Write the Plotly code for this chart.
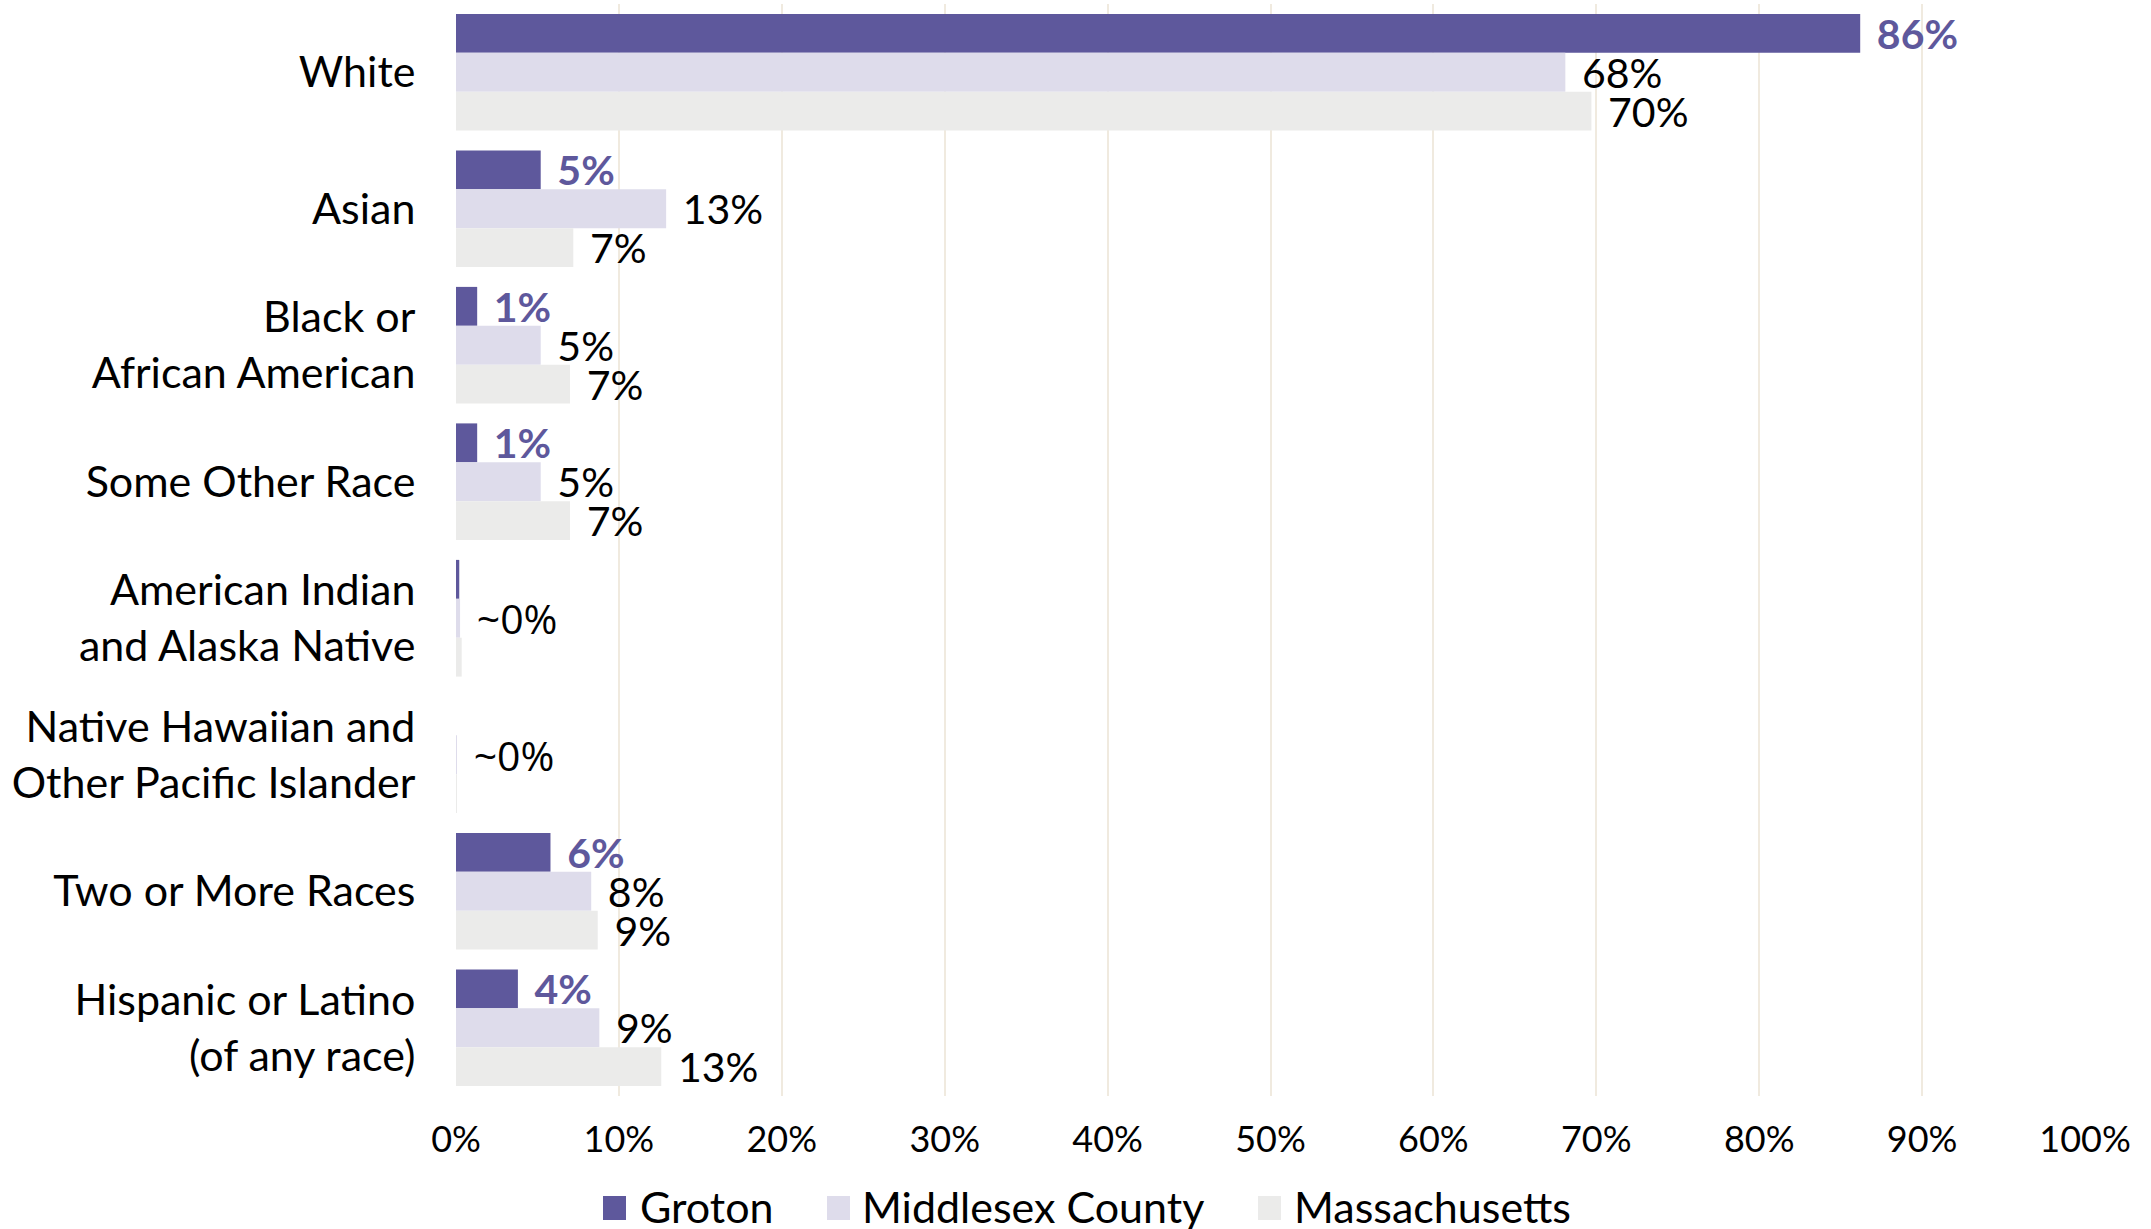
import plotly.graph_objects as go

categories = ["White", "Asian", "Black or<br>African American", "Some Other Race",
              "American Indian<br>and Alaska Native", "Native Hawaiian and<br>Other Pacific Islander",
              "Two or More Races", "Hispanic or Latino<br>(of any race)"]
series_names = ["Groton", "Middlesex County", "Massachusetts"]
groton = [86.2, 5.2, 1.3, 1.3, 0.2, 0.0, 5.8, 3.8]
middlesex = [68.1, 12.9, 5.2, 5.2, 0.25, 0.01, 8.3, 8.8]
massachusetts = [69.7, 7.2, 7.0, 7.0, 0.35, 0.01, 8.7, 12.6]
groton_labels = ["86%", "5%", "1%", "1%", "", "", "6%", "4%"]
middlesex_labels = ["68%", "13%", "5%", "5%", "~0%", "~0%", "8%", "9%"]
massachusetts_labels = ["70%", "7%", "7%", "7%", "", "", "9%", "13%"]
x_ticks = [0, 10, 20, 30, 40, 50, 60, 70, 80, 90, 100]

colors = ["#5E589C", "#DEDCEB", "#EBEBEA"]
label_colors = ["#5E589C", "#000000", "#000000"]
FONT = "Lato, 'Open Sans', sans-serif"
PAD = "\u2004"

# layout geometry (pixels)
W, H = 2151, 1229
ML, MR, MT, MB = 456, 66, 4, 133
PW, PH = W - ML - MR, H - MT - MB


def px_x(px):
    return (px - ML) / PW


def px_y(py):
    return (H - MB - py) / PH


fig = go.Figure()
for name, vals, labs, col, lcol in zip(series_names, [groton, middlesex, massachusetts],
                                       [groton_labels, middlesex_labels, massachusetts_labels],
                                       colors, label_colors):
    is_groton = name == "Groton"
    texts = []
    fams = []
    for lab in labs:
        if lab == "":
            texts.append("")
            fams.append(FONT)
        elif lab.startswith("~"):
            texts.append(PAD + lab)
            fams.append("'Open Sans', sans-serif")
        else:
            texts.append(PAD + (f"<b>{lab}</b>" if is_groton else lab))
            fams.append(FONT)
    fig.add_trace(go.Bar(
        y=categories, x=vals, name=name, orientation="h",
        marker=dict(color=col, line=dict(width=0)),
        text=texts, textposition="outside", constraintext="none", cliponaxis=False,
        textfont=dict(color=lcol, size=41, family=fams),
        hoverinfo="skip", showlegend=False,
    ))

# custom legend (larger swatches like the reference)
legend_marker_px = [603, 827, 1258]
legend_text_px = [638, 860, 1292]
shapes = []
annotations = []
for name, col, mx, tx in zip(series_names, colors, legend_marker_px, legend_text_px):
    shapes.append(dict(type="rect", xref="paper", yref="paper",
                       x0=px_x(mx), x1=px_x(mx + 23), y0=px_y(1220), y1=px_y(1196),
                       fillcolor=col, line=dict(width=0)))
    annotations.append(dict(xref="paper", yref="paper", x=px_x(tx), y=px_y(1206),
                            xanchor="left", yanchor="middle", text=name, showarrow=False,
                            font=dict(size=43, family=FONT, color="#000000")))

fig.update_layout(
    width=W, height=H,
    margin=dict(l=ML, r=MR, t=MT, b=MB, autoexpand=False),
    barmode="group", bargap=0.145, bargroupgap=0,
    plot_bgcolor="white", paper_bgcolor="white",
    font=dict(family=FONT, size=43, color="#000000"),
    showlegend=False,
    shapes=shapes, annotations=annotations,
    xaxis=dict(range=[0, 100], tickvals=x_ticks, ticktext=[f"{v}%" for v in x_ticks],
               showgrid=True, gridcolor="#F0EADF", gridwidth=2, zeroline=False,
               ticks="outside", ticklen=12, tickcolor="rgba(0,0,0,0)", automargin=False,
               tickfont=dict(size=36, family=FONT), showline=False, fixedrange=True),
    yaxis=dict(autorange="reversed", showgrid=False, zeroline=False, showline=False,
               ticks="outside", ticklen=31, tickcolor="rgba(0,0,0,0)", automargin=False,
               tickfont=dict(size=43, family=FONT)),
)

fig.write_html("out.html", config={"displayModeBar": False},
               post_script="document.body.style.margin='0';document.body.style.overflow='hidden';")
